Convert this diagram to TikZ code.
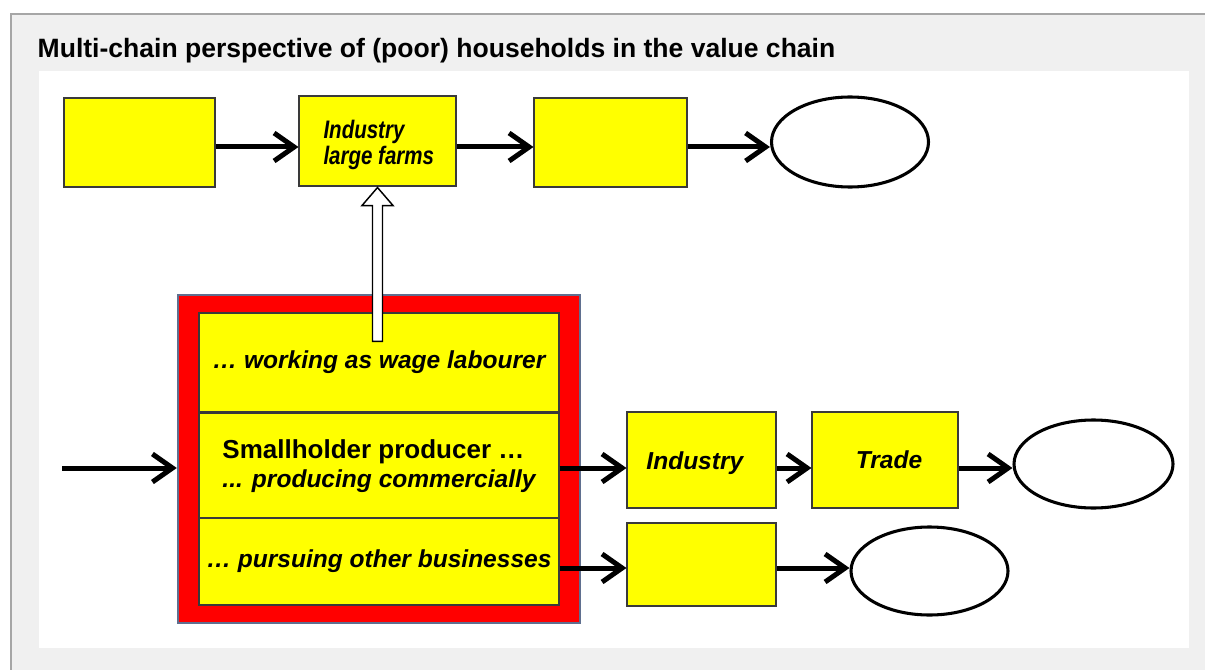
\documentclass[tikz,border=0pt]{standalone}
\usepackage{fontspec}
\setmainfont{Liberation Sans}
\newfontfamily\narrowsans[FakeStretch=0.81]{Liberation Sans}
\usetikzlibrary{arrows.meta,shapes.geometric,calc}
\definecolor{ybox}{HTML}{FFFF00}
\definecolor{rbox}{HTML}{FF0000}
\definecolor{slate}{HTML}{5F6F8F}
\definecolor{panel}{HTML}{F0F0F0}
\definecolor{edge}{HTML}{A6A6A6}
\definecolor{bline}{HTML}{3A3A3A}
\tikzset{
  ybx/.style={draw=bline,line width=0.8pt,fill=ybox,rectangle,inner sep=0pt},
  oval/.style={draw=black,line width=2.3pt,fill=white,ellipse,inner sep=0pt},
  flow/.style={line width=3.75pt,-{Straight Barb[length=15pt,width=21pt]}},
  hollow/.style={draw=black,line width=1.1pt,fill=white},
  btxt/.style={font=\bfseries\itshape\fontsize{18.4}{22}\selectfont},
}
\begin{document}
\begin{tikzpicture}[x=0.75pt,y=-0.75pt]
\useasboundingbox (0,0) rectangle (1205,670);
\fill[white] (0,0) rectangle (1205,670);
\fill[panel] (11,14) rectangle (1205,670);
\draw[edge,line width=1.5pt] (11,670) -- (11,14) -- (1205,14);
\fill[white] (39,71) rectangle (1189,648);
\node[anchor=base west,font=\bfseries\fontsize{19.9}{24}\selectfont] (title) at (33,58) {Multi-chain perspective of (poor) households in the value chain};
% top chain
\node[ybx,minimum width=113.25pt,minimum height=66.75pt] (b1) at (139.5,142.5) {};
\node[ybx,minimum width=117.75pt,minimum height=67.5pt,
  label={[yshift=-3pt,xshift=1pt,align=left,inner sep=0pt,font=\narrowsans\bfseries\itshape\fontsize{19}{18}\selectfont]center:Industry\\[2pt]large farms}] (ind2) at (377.5,141) {};
\node[ybx,minimum width=114.75pt,minimum height=66.75pt] (b3) at (610.5,142.5) {};
\node[oval,minimum width=117.75pt,minimum height=67.5pt] (e1) at (850,142) {};
% household block
\node[draw=slate,line width=1.8pt,fill=rbox,minimum width=301.5pt,minimum height=246pt,inner sep=0pt] (red) at (379,459) {};
\node[ybx,minimum width=270pt,minimum height=74.25pt,btxt] (wage) at (379,362.5) {\ldots\ working as wage labourer};
\node[ybx,minimum width=270pt,minimum height=79.5pt,align=left] (small) at (379,466)
  {{\bfseries\fontsize{19.5}{22}\selectfont Smallholder producer \ldots}\\[3pt]{\bfseries\itshape\fontsize{18.4}{22}\selectfont ... producing commercially}};
\node[ybx,minimum width=270pt,minimum height=65.25pt,btxt] (other) at (379,561.5) {\ldots\ pursuing other businesses};
% lower chains
\node[ybx,minimum width=111.75pt,minimum height=72pt,
  label={[yshift=-2.5pt,xshift=-5pt,btxt]center:Industry}] (ind) at (701.5,460) {};
\node[ybx,minimum width=109.5pt,minimum height=72pt,
  label={[xshift=3pt,btxt]center:Trade}] (trade) at (885,460) {};
\node[oval,minimum width=119.25pt,minimum height=66pt] (e2) at (1093.5,464) {};
\node[ybx,minimum width=111.75pt,minimum height=62.25pt] (b4) at (701.5,564.5) {};
\node[oval,minimum width=117.75pt,minimum height=66pt] (e3) at (929.5,571) {};
% rows
\coordinate (rowA) at (0,147);
\coordinate (rowB) at (0,468);
\coordinate (rowC) at (0,568);
\coordinate (src) at (62,468);
% connectors
\draw[flow] (b1.east |- rowA) -- (ind2.west |- rowA);
\draw[flow] (ind2.east |- rowA) -- (b3.west |- rowA);
\draw[flow] (b3.east |- rowA) -- (e1.west |- rowA);
\draw[flow] (src) -- (red.west |- rowB);
\draw[flow] (small.east |- rowB) -- (ind.west |- rowB);
\draw[flow] (ind.east |- rowB) -- (trade.west |- rowB);
\draw[flow] (trade.east |- rowB) -- (e2.west |- rowB);
\draw[flow] (other.east |- rowC) -- (b4.west |- rowC);
\draw[flow] (b4.east |- rowC) -- (e3.west |- rowC);
% hollow arrow from wage labour up to industry/large farms
\draw[hollow] ($(ind2.south)+(0,1)$) -- ($(ind2.south)+(15.5,19)$) -- ($(ind2.south)+(5,19)$)
  -- ($(ind2.south |- wage.north)+(5,29)$) -- ($(ind2.south |- wage.north)+(-5,29)$)
  -- ($(ind2.south)+(-5,19)$) -- ($(ind2.south)+(-15.5,19)$) -- cycle;
\end{tikzpicture}
\end{document}
